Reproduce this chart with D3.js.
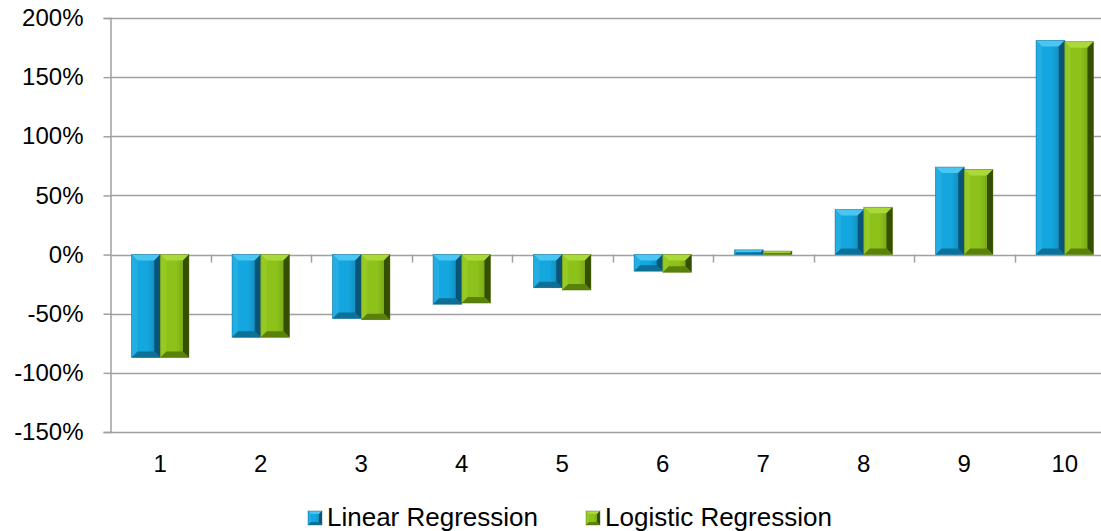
<!DOCTYPE html>
<html>
<head>
<meta charset="utf-8">
<script src="https://cdn.jsdelivr.net/npm/d3@7"></script>
<style>
  html, body { margin: 0; padding: 0; background: #fff; }
  svg { display: block; }
  text { font-family: "Liberation Sans", Arial, sans-serif; fill: #000; }
</style>
</head>
<body>
<svg id="chart" width="1101" height="531"></svg>
<script>
const categories = ["1", "2", "3", "4", "5", "6", "7", "8", "9", "10"];
const linearValues = [-87, -70, -54, -42, -28, -14, 4, 38, 74, 181];
const logisticValues = [-87, -70, -55, -41, -30, -15, 3, 40, 72, 180];
const seriesNames = ["Linear Regression", "Logistic Regression"];
const yTickValues = [-150, -100, -50, 0, 50, 100, 150, 200];

const svg = d3.select("#chart");
const plot = { left: 110, right: 1115, top: 18, bottom: 432 };

const y = d3.scaleLinear().domain([-150, 200]).range([plot.bottom, plot.top]);
const x = d3.scaleBand().domain(categories).range([plot.left, plot.right]).paddingInner(0).paddingOuter(0);
const barW = x.bandwidth() / 3.5;
const xs = d3.scaleBand().domain(seriesNames).range([0.75 * barW, 2.75 * barW]);

const palettes = [
  { face: "#14a6de", light: "#49c6f2", left: "#22aee3", right: "#0a5577", bottom: "#0d7099", edge: "#0c5f84" },
  { face: "#8dc21b", light: "#acd93a", left: "#96c924", right: "#344f02", bottom: "#5a820a", edge: "#4d6e0a" }
];

const defs = svg.append("defs");
palettes.forEach((p, i) => {
  const g = defs.append("linearGradient").attr("id", "face" + i).attr("x1", 0).attr("x2", 1).attr("y1", 0).attr("y2", 0);
  g.append("stop").attr("offset", "0%").attr("stop-color", p.face);
  g.append("stop").attr("offset", "55%").attr("stop-color", p.face);
  g.append("stop").attr("offset", "100%").attr("stop-color", d3.color(p.face).darker(0.7));
});

// gridlines
svg.append("g").selectAll("line").data(yTickValues).join("line")
  .attr("x1", plot.left).attr("x2", plot.right)
  .attr("y1", d => Math.round(y(d)) + 0.5).attr("y2", d => Math.round(y(d)) + 0.5)
  .attr("stroke", "#a0a0a0").attr("stroke-width", 1.5);

// y axis
const yAxis = d3.axisLeft(y).tickValues(yTickValues).tickSize(7).tickPadding(20).tickFormat(d => d + "%");
const yg = svg.append("g").attr("transform", `translate(${plot.left + 0.5},0)`).call(yAxis);
yg.select(".domain").attr("stroke", "#a0a0a0").attr("stroke-width", 1.5);
yg.selectAll(".tick line").attr("stroke", "#a0a0a0").attr("stroke-width", 1.5);
yg.selectAll(".tick text").attr("font-size", "24px").attr("font-family", '"Liberation Sans", Arial, sans-serif').attr("fill", "#000");

// category ticks on zero line
const boundaries = categories.slice(1);
svg.append("g").selectAll("line").data(boundaries).join("line")
  .attr("x1", d => Math.round(x(d)) + 0.5).attr("x2", d => Math.round(x(d)) + 0.5)
  .attr("y1", y(0)).attr("y2", y(0) + 8)
  .attr("stroke", "#a0a0a0").attr("stroke-width", 1.5);

// category labels
const xAxis = d3.axisBottom(x).tickSize(0).tickPadding(0);
const xg = svg.append("g").attr("transform", `translate(0,${plot.bottom})`).call(xAxis);
xg.select(".domain").remove();
xg.selectAll(".tick text").attr("font-size", "24px").attr("y", 40).attr("dy", "0")
  .attr("font-family", '"Liberation Sans", Arial, sans-serif').attr("fill", "#000");

// bevel bar drawing
function bevelBar(g, x0, y0, w, h, p, idx, bmax) {
  const b = Math.min(bmax, h / 2.2, w / 3);
  const x1 = x0 + w, y1 = y0 + h;
  g.append("rect").attr("x", x0).attr("y", y0).attr("width", w).attr("height", h).attr("fill", `url(#face${idx})`);
  const poly = (pts, fill) => g.append("polygon").attr("points", pts.map(q => q.join(",")).join(" ")).attr("fill", fill);
  poly([[x0, y0], [x1, y0], [x1 - b, y0 + b], [x0 + b, y0 + b]], p.light);
  poly([[x0, y0], [x0 + b, y0 + b], [x0 + b, y1 - b], [x0, y1]], p.left);
  poly([[x1, y0], [x1, y1], [x1 - b, y1 - b], [x1 - b, y0 + b]], p.right);
  poly([[x0, y1], [x0 + b, y1 - b], [x1 - b, y1 - b], [x1, y1]], p.bottom);
  g.append("rect").attr("x", x0).attr("y", y0).attr("width", w).attr("height", h)
    .attr("fill", "none").attr("stroke", p.edge).attr("stroke-width", 0.8).attr("stroke-opacity", 0.5);
}

const seriesData = [linearValues, logisticValues];
seriesData.forEach((vals, si) => {
  const g = svg.append("g");
  vals.forEach((v, ci) => {
    const bx = x(categories[ci]) + xs(seriesNames[si]);
    const top = y(Math.max(0, v)), bot = y(Math.min(0, v));
    bevelBar(g, bx, top, xs.bandwidth(), bot - top, palettes[si], si, 6);
  });
});

// legend
const legendItems = [
  { name: seriesNames[0], mx: 308, tx: 327 },
  { name: seriesNames[1], mx: 586, tx: 605 }
];
const lg = svg.append("g");
legendItems.forEach((it, i) => {
  bevelBar(lg, it.mx, 511, 14, 14, palettes[i], i, 3);
  lg.append("text").attr("x", it.tx).attr("y", 526).attr("font-size", "26px").text(it.name);
});
</script>
</body>
</html>
